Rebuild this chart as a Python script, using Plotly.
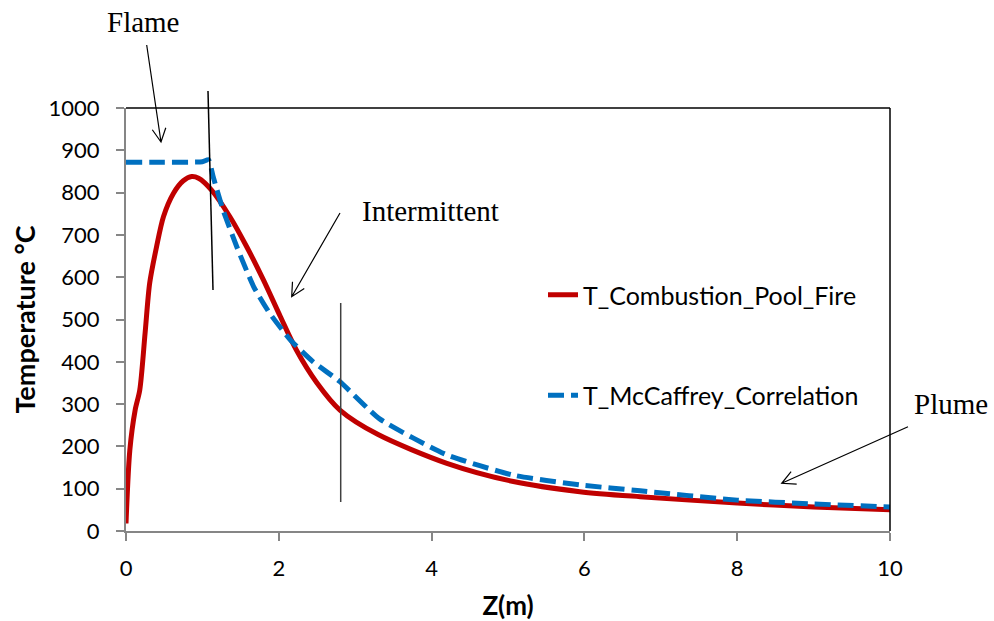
import plotly.graph_objects as go
import math

# ---------------- data ----------------
z_pool = [0, 0.05, 0.12, 0.18, 0.25, 0.31, 0.40, 0.49, 0.62, 0.75, 0.86, 0.95, 1.12, 1.36,
          1.58, 1.80, 2.02, 2.23, 2.5, 2.8, 3.3, 4.2, 5.07, 5.94, 6.73, 8.0, 9.0, 10.0]
t_pool = [18, 191, 286, 333, 468, 586, 672, 743, 798, 828, 838, 834, 806, 743,
          672, 593, 507, 428, 350, 286, 228, 160, 117, 93, 81, 66, 57, 50]

z_mcc = [0, 0.5, 1.0, 1.08, 1.14, 1.27, 1.45, 1.67, 1.88, 2.15, 2.45, 2.8,
         3.32, 4.2, 5.07, 5.94, 6.73, 8.0, 9.0, 10.0]
t_mcc = [872, 872, 873, 878, 838, 759, 672, 578, 515, 452, 400, 353,
         265, 180, 132, 109, 95, 73, 64, 57]

names = ["T_Combustion_Pool_Fire", "T_McCaffrey_Correlation"]
x_ticks = [0, 2, 4, 6, 8, 10]
y_ticks = list(range(0, 1001, 100))

# ---------------- layout geometry ----------------
W, H = 994, 621
ML, MR, MT, MB = 126, 104, 108, 90
PW, PH = W - ML - MR, H - MT - MB


def px(x, y):
    return (x - ML) / PW, (H - MB - y) / PH


def arrow_path(tx, ty, hx, hy, L=15, ang=27):
    a = math.atan2(ty - hy, tx - hx)
    pts = []
    for s in (1, -1):
        b = a + s * math.radians(ang)
        pts.append((hx + L * math.cos(b), hy + L * math.sin(b)))
    P = lambda x, y: "%.5f,%.5f" % px(x, y)
    return ("M" + P(tx, ty) + " L" + P(hx, hy) +
            " M" + P(*pts[0]) + " L" + P(hx, hy) + " L" + P(*pts[1]))


fig = go.Figure()
fig.add_trace(go.Scatter(x=z_pool, y=t_pool, mode="lines", name=names[0],
                         legendgroup="a",
                         line=dict(color="#C00000", width=5, shape="spline", smoothing=0.8)))
fig.add_trace(go.Scatter(x=z_mcc, y=t_mcc, mode="lines", name=names[1],
                         legendgroup="b",
                         line=dict(color="#0070C0", width=5, dash="16px,7px",
                                   shape="spline", smoothing=0.5)))

sans = "Lato"
serif = "Liberation Serif"

shapes = []
# frame top / right
shapes.append(dict(type="line", xref="paper", yref="paper", x0=0, y0=1, x1=1, y1=1,
                   line=dict(color="black", width=1.5)))
shapes.append(dict(type="line", xref="paper", yref="paper", x0=1, y0=0, x1=1, y1=1,
                   line=dict(color="black", width=1.5)))
# region separators
x0, y0 = px(208, 91)
x1, y1 = px(213, 290)
shapes.append(dict(type="line", xref="paper", yref="paper", x0=x0, y0=y0, x1=x1, y1=y1,
                   line=dict(color="black", width=1.5)))
x0, y0 = px(340.7, 303)
x1, y1 = px(340.7, 502)
shapes.append(dict(type="line", xref="paper", yref="paper", x0=x0, y0=y0, x1=x1, y1=y1,
                   line=dict(color="#404040", width=1.5)))
# arrows
for tx, ty, hx, hy in [(146.7, 45, 161, 142), (340, 213, 291.7, 296.7), (908, 426.7, 781.7, 483.3)]:
    shapes.append(dict(type="path", xref="paper", yref="paper", path=arrow_path(tx, ty, hx, hy),
                       line=dict(color="black", width=1.2)))

annotations = []
for txt, cx, cy in [("Flame", 143, 22), ("Intermittent", 430, 211), ("Plume", 951, 404)]:
    ax_, ay_ = px(cx, cy)
    annotations.append(dict(text=txt, x=ax_, y=ay_, xref="paper", yref="paper",
                            showarrow=False, xanchor="center", yanchor="middle",
                            font=dict(family=serif, size=29, color="black")))

fig.update_layout(
    width=W, height=H,
    margin=dict(l=ML, r=MR, t=MT, b=MB),
    paper_bgcolor="white", plot_bgcolor="white",
    font=dict(family=sans, color="black"),
    showlegend=True,
    legend=dict(x=px(543, 0)[0], y=px(0, 272)[1], xanchor="left", yanchor="top",
                bgcolor="rgba(0,0,0,0)", font=dict(family=sans, size=25, color="black"),
                tracegroupgap=65, traceorder="grouped"),
    shapes=shapes,
    annotations=annotations,
)
fig.update_xaxes(range=[0, 10], tickvals=x_ticks, showgrid=False, zeroline=False,
                 showline=True, linecolor="#868686", linewidth=2, automargin=False,
                 ticks="outside", ticklen=8, tickwidth=2, tickcolor="#868686",
                 ticklabelstandoff=9,
                 tickfont=dict(family=sans, size=22, color="black"),
                 title=dict(text="<b>Z(m)</b>", font=dict(family=sans, size=26), standoff=19))
fig.update_yaxes(range=[0, 1000], tickvals=y_ticks, showgrid=False, zeroline=False,
                 showline=True, linecolor="#868686", linewidth=2, automargin=False,
                 ticks="outside", ticklen=8, tickwidth=2, tickcolor="#868686",
                 ticklabelstandoff=12,
                 tickfont=dict(family=sans, size=22, color="black"),
                 title=dict(text="<b>Temperature °C</b>", font=dict(family=sans, size=27), standoff=5))

fig.write_html("out.html")
